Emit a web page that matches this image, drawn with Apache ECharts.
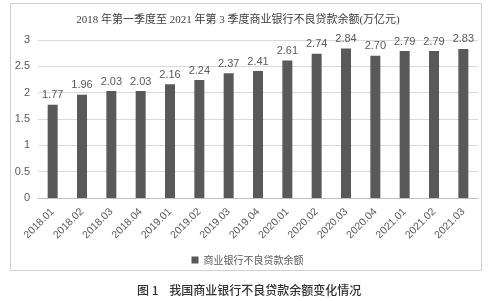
<!DOCTYPE html>
<html><head><meta charset="utf-8">
<script src="https://cdn.jsdelivr.net/npm/echarts@6/dist/echarts.min.js"></script>
<style>html,body{margin:0;padding:0;background:#fff}#c{width:495px;height:301px}</style>
</head><body><div id="c"></div>
<script>
const categories = ['2018.01','2018.02','2018.03','2018.04','2019.01','2019.02','2019.03','2019.04','2020.01','2020.02','2020.03','2020.04','2021.01','2021.02','2021.03'];
const values = [1.77,1.96,2.03,2.03,2.16,2.24,2.37,2.41,2.61,2.74,2.84,2.70,2.79,2.79,2.83];
const yTicks = [0,0.5,1,1.5,2,2.5,3];
const seriesName = '商业银行不良贷款余额';
const chartTitle = '2018 年第一季度至 2021 年第 3 季度商业银行不良贷款余额(万亿元)';
const caption = '图 1    我国商业银行不良贷款余额变化情况';

const chart = echarts.init(document.getElementById('c'), null, {renderer:'canvas'});
chart.setOption({
  animation:false,
  backgroundColor:'#fff',
  title:{text:chartTitle,left:233,top:10,textAlign:'center',
    textStyle:{fontFamily:'"Liberation Serif","Noto Sans CJK SC",serif',fontSize:11,fontWeight:'normal',color:'#404040'}},
  grid:{left:38,right:17,top:40,bottom:103},
  legend:{data:[seriesName],left:'center',top:250,itemWidth:7,itemHeight:7,icon:'rect',itemGap:6,
    textStyle:{fontSize:10,color:'#595959',fontFamily:'"Noto Sans CJK SC",sans-serif'}},
  xAxis:{type:'category',data:categories,
    axisLine:{lineStyle:{color:'#bfbfbf'}},axisTick:{show:false},
    axisLabel:{rotate:45,fontSize:10.5,color:'#595959',margin:12,interval:0,fontFamily:'"Liberation Sans",sans-serif'}},
  yAxis:{type:'value',min:yTicks[0],max:yTicks[yTicks.length-1],interval:0.5,
    axisLine:{show:false},axisTick:{show:false},
    splitLine:{lineStyle:{color:'#d9d9d9'}},
    axisLabel:{fontSize:11,color:'#595959',margin:8,fontFamily:'"Liberation Sans",sans-serif'}},
  series:[{name:seriesName,type:'bar',data:values,barWidth:10,
    itemStyle:{color:'#595959'},
    label:{show:true,position:'top',distance:4,fontSize:11,color:'#595959',
      fontFamily:'"Liberation Sans",sans-serif',formatter:p=>p.value.toFixed(2)}}],
  graphic:[
    {type:'rect',shape:{x:10.5,y:3.5,width:471,height:267},style:{fill:'none',stroke:'#d0d0d0',lineWidth:1},z:-1},
    {type:'text',x:137,y:290,style:{text:caption,font:'500 12px "Noto Sans CJK SC",sans-serif',fill:'#333',verticalAlign:'middle'}}
  ]
});
</script></body></html>
